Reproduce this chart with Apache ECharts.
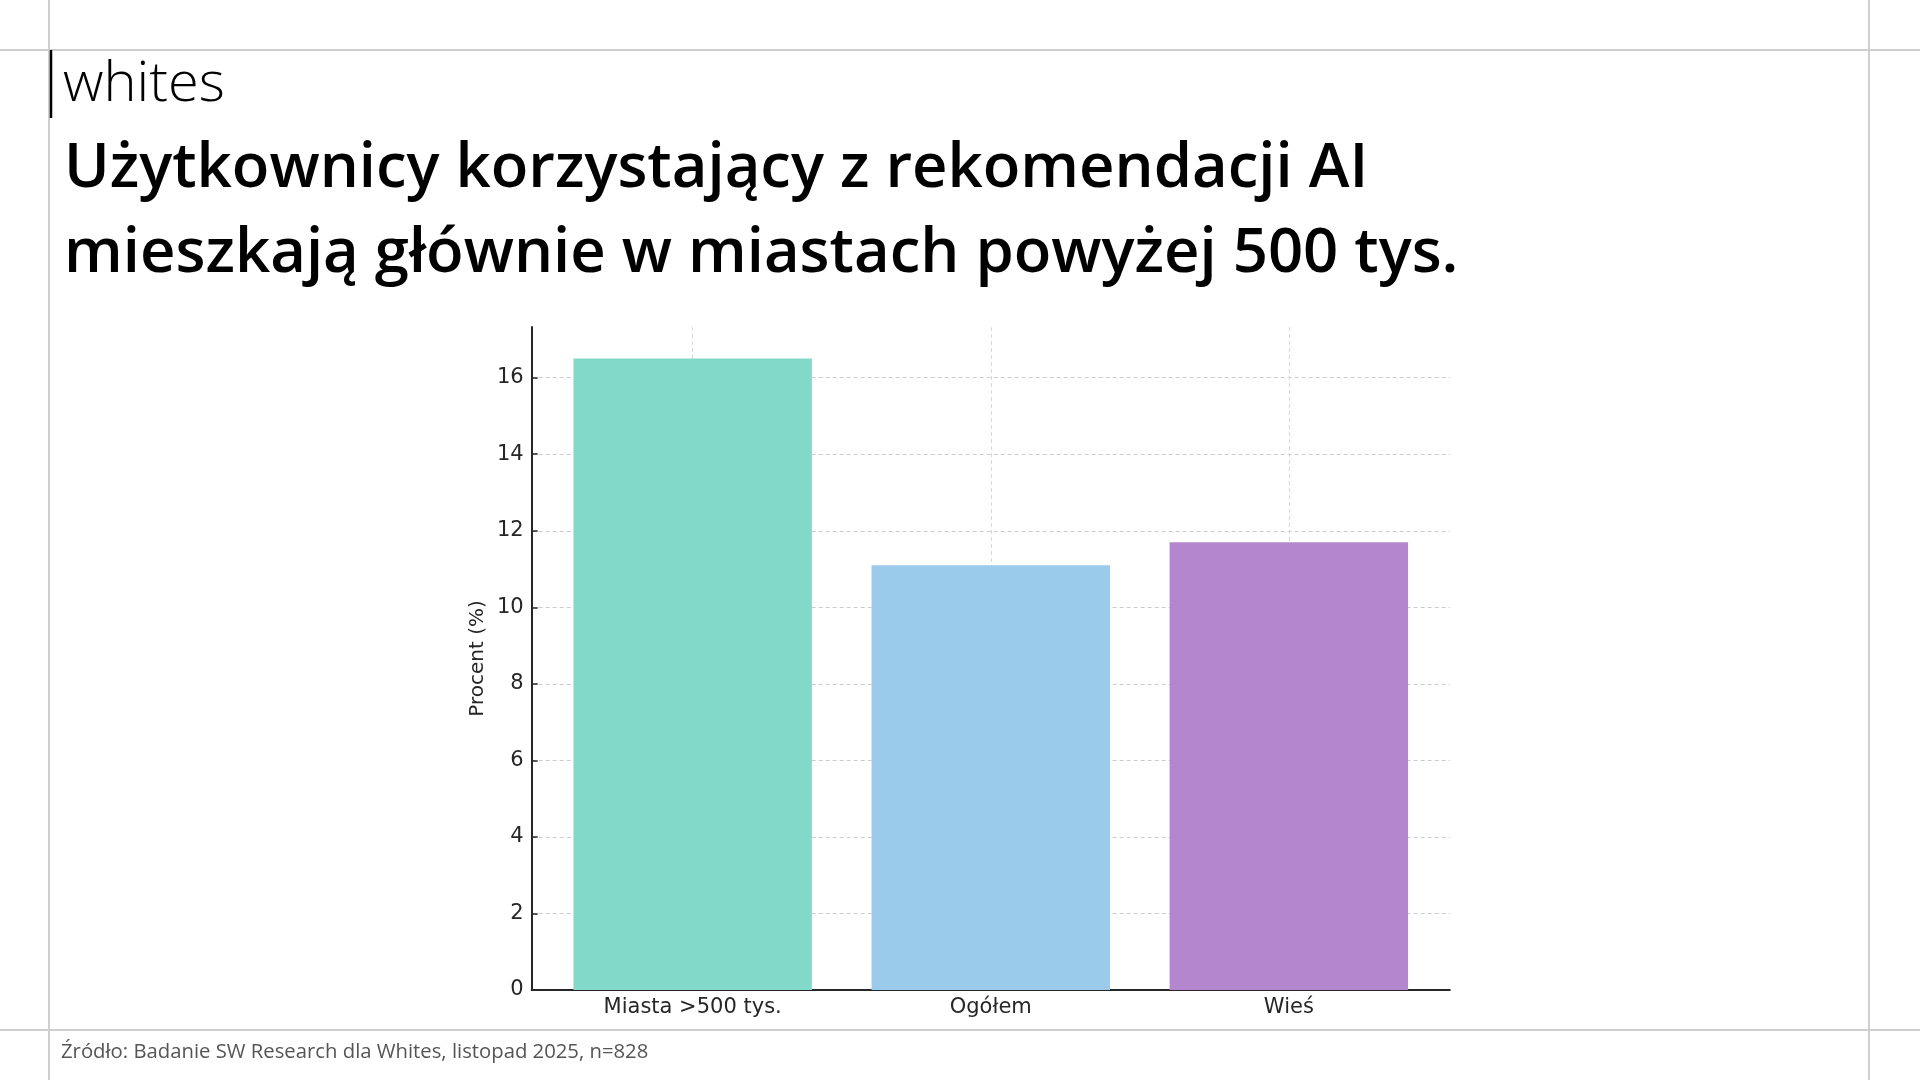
<!DOCTYPE html>
<html>
<head>
<meta charset="utf-8">
<script src="https://cdn.jsdelivr.net/npm/echarts@6/dist/echarts.min.js"></script>
<style>
html,body{margin:0;padding:0;background:#fff;}
#chart{width:1920px;height:1080px;}
</style>
</head>
<body>
<div id="chart"></div>
<script>
const categories = ['Miasta >500 tys.', 'Ogółem', 'Wieś'];
const values = [16.5, 11.1, 11.7];
const barColors = ['#82D9CA', '#9ACBEA', '#B486CE'];
const yTicks = [0, 2, 4, 6, 8, 10, 12, 14, 16];
const xTicks = [0, 1, 2];
const brand = 'whites';
const titleLines = ['Użytkownicy korzystający z rekomendacji AI', 'mieszkają głównie w miastach powyżej 500 tys.'];
const sourceText = 'Źródło: Badanie SW Research dla Whites, listopad 2025, n=828';
const yName = 'Procent (%)';

const chart = echarts.init(document.getElementById('chart'), null, {renderer: 'canvas'});

const frame = '#cfcfcf';
const option = {
  backgroundColor: '#ffffff',
  animation: false,
  title: [
    {text: brand, left: 63, top: 57, padding: 0,
     textStyle: {fontFamily: 'Open Sans', fontWeight: 300, fontSize: 56, lineHeight: 56, color: '#000'}},
    {text: titleLines.join('\n'), left: 64, top: 127, padding: 0,
     textStyle: {fontFamily: 'Open Sans', fontWeight: 600, fontSize: 61.6, lineHeight: 85, color: '#000'}},
    {text: sourceText, left: 61, top: 1042, padding: 0,
     textStyle: {fontFamily: 'Open Sans', fontWeight: 400, fontSize: 20.3, lineHeight: 21, color: '#555'}}
  ],
  graphic: [
    {type: 'line', shape: {x1: 0, y1: 50, x2: 1920, y2: 50}, style: {stroke: frame, lineWidth: 2}, z: -1},
    {type: 'line', shape: {x1: 0, y1: 1030, x2: 1920, y2: 1030}, style: {stroke: frame, lineWidth: 2}, z: -1},
    {type: 'line', shape: {x1: 49, y1: 0, x2: 49, y2: 1080}, style: {stroke: frame, lineWidth: 2}, z: -1},
    {type: 'line', shape: {x1: 1869, y1: 0, x2: 1869, y2: 1080}, style: {stroke: frame, lineWidth: 2}, z: -1},
    {type: 'line', shape: {x1: 51, y1: 50, x2: 51, y2: 118}, style: {stroke: '#000', lineWidth: 2.5}, z: 5}
  ],
  grid: {left: 531.7, right: 470.2, top: 327, bottom: 90, containLabel: false},
  xAxis: {
    type: 'value', min: -0.54, max: 2.54,
    axisLine: {show: true, onZero: false, lineStyle: {color: '#262626', width: 2}},
    axisTick: {show: true, inside: true, length: 6, customValues: xTicks, lineStyle: {color: '#262626', width: 1.5}},
    axisLabel: {show: true, customValues: xTicks, margin: 7,
      formatter: v => categories[Math.round(v)],
      fontFamily: 'DejaVu Sans', fontSize: 21, color: '#262626'},
    splitLine: {show: true, lineStyle: {color: '#d9d9d9', width: 1, type: [4, 3]}}
  },
  yAxis: {
    type: 'value', min: 0, max: 17.325,
    name: yName, nameLocation: 'middle', nameGap: 44,
    nameTextStyle: {fontFamily: 'DejaVu Sans', fontSize: 20, color: '#262626'},
    axisLine: {show: true, onZero: false, lineStyle: {color: '#262626', width: 2}},
    axisTick: {show: true, inside: true, length: 6, customValues: yTicks, lineStyle: {color: '#262626', width: 1.5}},
    axisLabel: {show: true, customValues: yTicks, margin: 8,
      fontFamily: 'DejaVu Sans', fontSize: 21, color: '#262626'},
    splitLine: {show: true, lineStyle: {color: '#cccccc', width: 1, type: [4, 3]}}
  },
  series: [{
    type: 'bar',
    barWidth: '80%',
    data: values.map((v, i) => ({value: [i, v], itemStyle: {color: barColors[i]}})),
    z: 1
  }]
};
chart.setOption(option);
</script>
</body>
</html>
